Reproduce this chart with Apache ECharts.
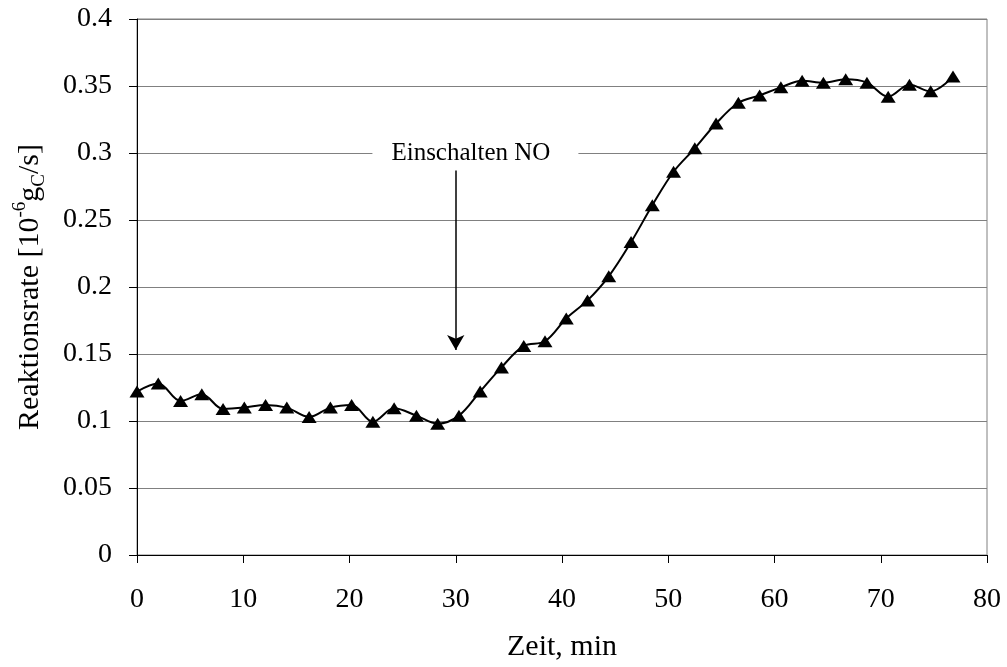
<!DOCTYPE html>
<html>
<head>
<meta charset="utf-8">
<script src="https://cdn.jsdelivr.net/npm/echarts@6/dist/echarts.min.js"></script>
<style>
html, body { margin: 0; padding: 0; background: #fff; }
#chart { width: 1007px; height: 667px; }
</style>
</head>
<body>
<div id="chart"></div>
<script>
var zeit = [0, 2, 4.1, 6.1, 8.1, 10.1, 12.1, 14.1, 16.2, 18.2, 20.2, 22.2, 24.2, 26.3, 28.3,
    30.3, 32.3, 34.3, 36.4, 38.4, 40.4, 42.4, 44.4, 46.5, 48.5, 50.5, 52.5, 54.5, 56.6, 58.6,
    60.6, 62.6, 64.6, 66.7, 68.7, 70.7, 72.7, 74.7, 76.8];
var rate = [0.122, 0.128, 0.115, 0.120, 0.109, 0.110, 0.112, 0.110, 0.103, 0.110, 0.112, 0.0995, 0.1095, 0.104, 0.098,
    0.104, 0.122, 0.140, 0.156, 0.1595, 0.1765, 0.190, 0.208, 0.2335, 0.261, 0.286, 0.3035, 0.322, 0.3375, 0.343,
    0.349, 0.354, 0.3525, 0.355, 0.3525, 0.342, 0.351, 0.346, 0.357];
// Pfeil und Beschriftung "Einschalten NO"
var pfeilStart = [30, 0.287];
var pfeilEnde = [30, 0.153];
var labelPos = [31.85, 0.3];

var font = 'Liberation Serif';
var chart = echarts.init(document.getElementById('chart'));

var punkte = zeit.map(function (x, i) { return [x, rate[i]]; });

option = {
    animation: false,
    grid: {
        left: 137,
        right: 20,
        top: 19,
        bottom: 112,
        show: true,
        borderColor: '#808080',
        borderWidth: 1
    },
    xAxis: {
        type: 'value',
        min: 0,
        max: 80,
        interval: 10,
        name: 'Zeit, min',
        nameLocation: 'middle',
        nameGap: 77,
        nameTextStyle: { fontFamily: font, fontSize: 30, color: '#000' },
        axisLine: { show: true, lineStyle: { color: '#000', width: 1 } },
        axisTick: { show: true, length: 8, lineStyle: { color: '#000' } },
        axisLabel: { fontFamily: font, fontSize: 28, color: '#000', margin: 31 },
        splitLine: { show: false }
    },
    yAxis: {
        type: 'value',
        min: 0,
        max: 0.4,
        interval: 0.05,
        name: '{a|Reaktionsrate [10}{sup|-6}{a|g}{sub|C}{a|/s]}',
        nameLocation: 'middle',
        nameGap: 88,
        nameRotate: 90,
        nameTextStyle: {
            fontFamily: font, fontSize: 30, color: '#000',
            rich: {
                a: { fontFamily: font, fontSize: 30, color: '#000', lineHeight: 38 },
                sup: { fontFamily: font, fontSize: 19, color: '#000', lineHeight: 38, verticalAlign: 'top' },
                sub: { fontFamily: font, fontSize: 19, color: '#000', lineHeight: 38, verticalAlign: 'bottom' }
            }
        },
        axisLine: { show: true, lineStyle: { color: '#000', width: 1 } },
        axisTick: { show: true, length: 8, lineStyle: { color: '#000' } },
        axisLabel: { fontFamily: font, fontSize: 28, color: '#000', margin: 25 },
        splitLine: { show: true, lineStyle: { color: '#808080', width: 1 } }
    },
    series: [{
        type: 'line',
        data: punkte,
        smooth: 0.35,
        symbol: 'triangle',
        symbolSize: [15, 12],
        itemStyle: { color: '#000' },
        lineStyle: { color: '#000', width: 2 },
        z: 5,
        markPoint: {
            symbol: 'rect',
            symbolSize: 0,
            silent: true,
            data: [{
                coord: labelPos,
                label: {
                    show: true,
                    position: 'inside',
                    formatter: 'Einschalten NO',
                    fontFamily: font,
                    fontSize: 25,
                    color: '#000',
                    backgroundColor: '#fff',
                    padding: [4, 28, 4, 19]
                }
            }]
        },
        markLine: {
            silent: true,
            symbol: ['none', 'arrow'],
            symbolSize: [13, 15],
            label: { show: false },
            lineStyle: { color: '#000', width: 1.5, type: 'solid' },
            data: [[{ coord: pfeilStart }, { coord: pfeilEnde }]]
        }
    }]
};
chart.setOption(option);
</script>
</body>
</html>
